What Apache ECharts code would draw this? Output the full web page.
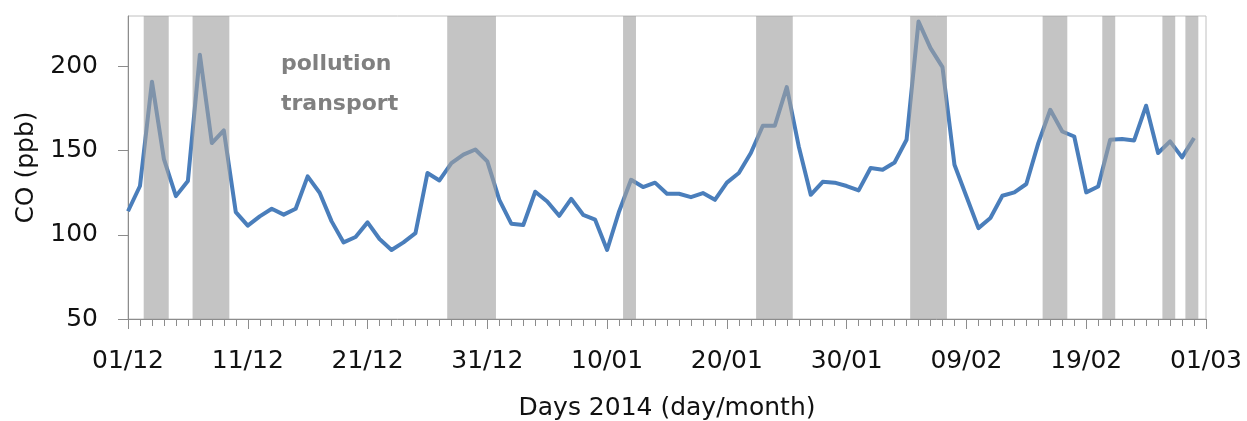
<!DOCTYPE html>
<html>
<head>
<meta charset="utf-8">
<script src="https://cdn.jsdelivr.net/npm/echarts@6/dist/echarts.min.js"></script>
<style>
html,body{margin:0;padding:0;background:#fff;}
#chart{width:1247px;height:421px;}
</style>
</head>
<body>
<div id="chart"></div>
<script>
// Daily CO (ppb), day 0 = 01/12/2013
var coValues = [
  114, 129, 191, 145, 123, 132, 207, 154.5, 162, 113.5,
  105.5, 111, 115.5, 112, 115.5, 134.7, 125, 108, 95.5, 98.7,
  107.4, 97.5, 91, 95.5, 101, 136.7, 132.3, 142.6, 147.6, 150.7,
  143.6, 120.8, 106.6, 105.8, 125.6, 119.8, 111.3, 121.4, 111.9, 109,
  91, 113.9, 132.7, 128.4, 131, 124.4, 124.4, 122.4, 124.8, 120.8,
  131, 136.7, 148.6, 164.8, 164.8, 187.8, 152.5, 123.8, 131.5, 131,
  129, 126.4, 139.7, 138.7, 143, 156.5, 226.7, 210.9, 199.6, 141.6,
  122.8, 104, 110, 123.2, 125.2, 130.2, 154.5, 174.3, 161.4, 158.4,
  125.2, 128.7, 156.5, 156.9, 156.1, 176.7, 148.6, 155.5, 146, 157.5
];
// Pollution transport periods (in days since 01/12)
var shadeStart = [1.31, 5.39, 26.65, 41.33, 52.44, 65.3, 76.36, 81.34, 86.36, 88.28];
var shadeEnd   = [3.4, 8.46, 30.72, 42.41, 55.5, 68.37, 78.42, 82.42, 87.43, 89.36];
var tickLabels = ['01/12','11/12','21/12','31/12','10/01','20/01','30/01','09/02','19/02','01/03'];
var yTicks = [50, 100, 150, 200];

var chart = echarts.init(document.getElementById('chart'));
var font = 'DejaVu Sans';
var axisGray = '#8c8c8c';

var lineData = coValues.map(function (v, i) { return [i, v]; });
var areas = shadeStart.map(function (s, i) { return [{ xAxis: s }, { xAxis: shadeEnd[i] }]; });

chart.setOption({
  animation: false,
  grid: {
    left: 128, right: 41, top: 16, bottom: 102,
    outerBoundsMode: 'none', containLabel: false,
    show: true, borderColor: '#c0c0c0', borderWidth: 1, backgroundColor: 'transparent'
  },
  graphic: [
    { type: 'text', left: 281, top: 53, style: { text: 'pollution', font: 'bold 22px "' + font + '"', fill: '#808080' }, z: 100 },
    { type: 'text', left: 281, top: 93, style: { text: 'transport', font: 'bold 22px "' + font + '"', fill: '#808080' }, z: 100 }
  ],
  xAxis: {
    type: 'value', min: 0, max: 90, interval: 10,
    name: 'Days 2014 (day/month)', nameLocation: 'middle', nameGap: 77,
    nameTextStyle: { fontFamily: font, fontSize: 25, color: '#111' },
    axisLine: { show: true, lineStyle: { color: axisGray, width: 1 } },
    axisTick: { show: true, length: 10, lineStyle: { color: axisGray } },
    minorTick: { show: true, splitNumber: 10, length: 7, lineStyle: { color: axisGray } },
    splitLine: { show: false },
    minorSplitLine: { show: false },
    axisLabel: {
      margin: 30, fontFamily: font, fontSize: 25, color: '#111',
      formatter: function (v) { return tickLabels[Math.round(v / 10)] || ''; }
    }
  },
  yAxis: {
    type: 'value', min: 50, max: 230, interval: 50,
    name: 'CO (ppb)', nameLocation: 'middle', nameGap: 89, nameRotate: 90,
    nameTextStyle: { fontFamily: font, fontSize: 25, color: '#111' },
    axisLine: { show: true, lineStyle: { color: axisGray, width: 1 } },
    axisTick: { show: true, length: 10, customValues: yTicks, lineStyle: { color: axisGray } },
    splitLine: { show: false },
    axisLabel: { margin: 30, fontFamily: font, fontSize: 25, color: '#111', customValues: yTicks }
  },
  series: [
    {
      type: 'line', data: lineData, showSymbol: false, symbol: 'none', z: 2,
      lineStyle: { color: '#4a7ebb', width: 4, join: 'round' }
    },
    {
      type: 'line', data: [], z: 5,
      markArea: {
        silent: true, z: 5,
        itemStyle: { color: 'rgba(160,160,160,0.62)' },
        data: areas
      }
    }
  ]
});
</script>
</body>
</html>
